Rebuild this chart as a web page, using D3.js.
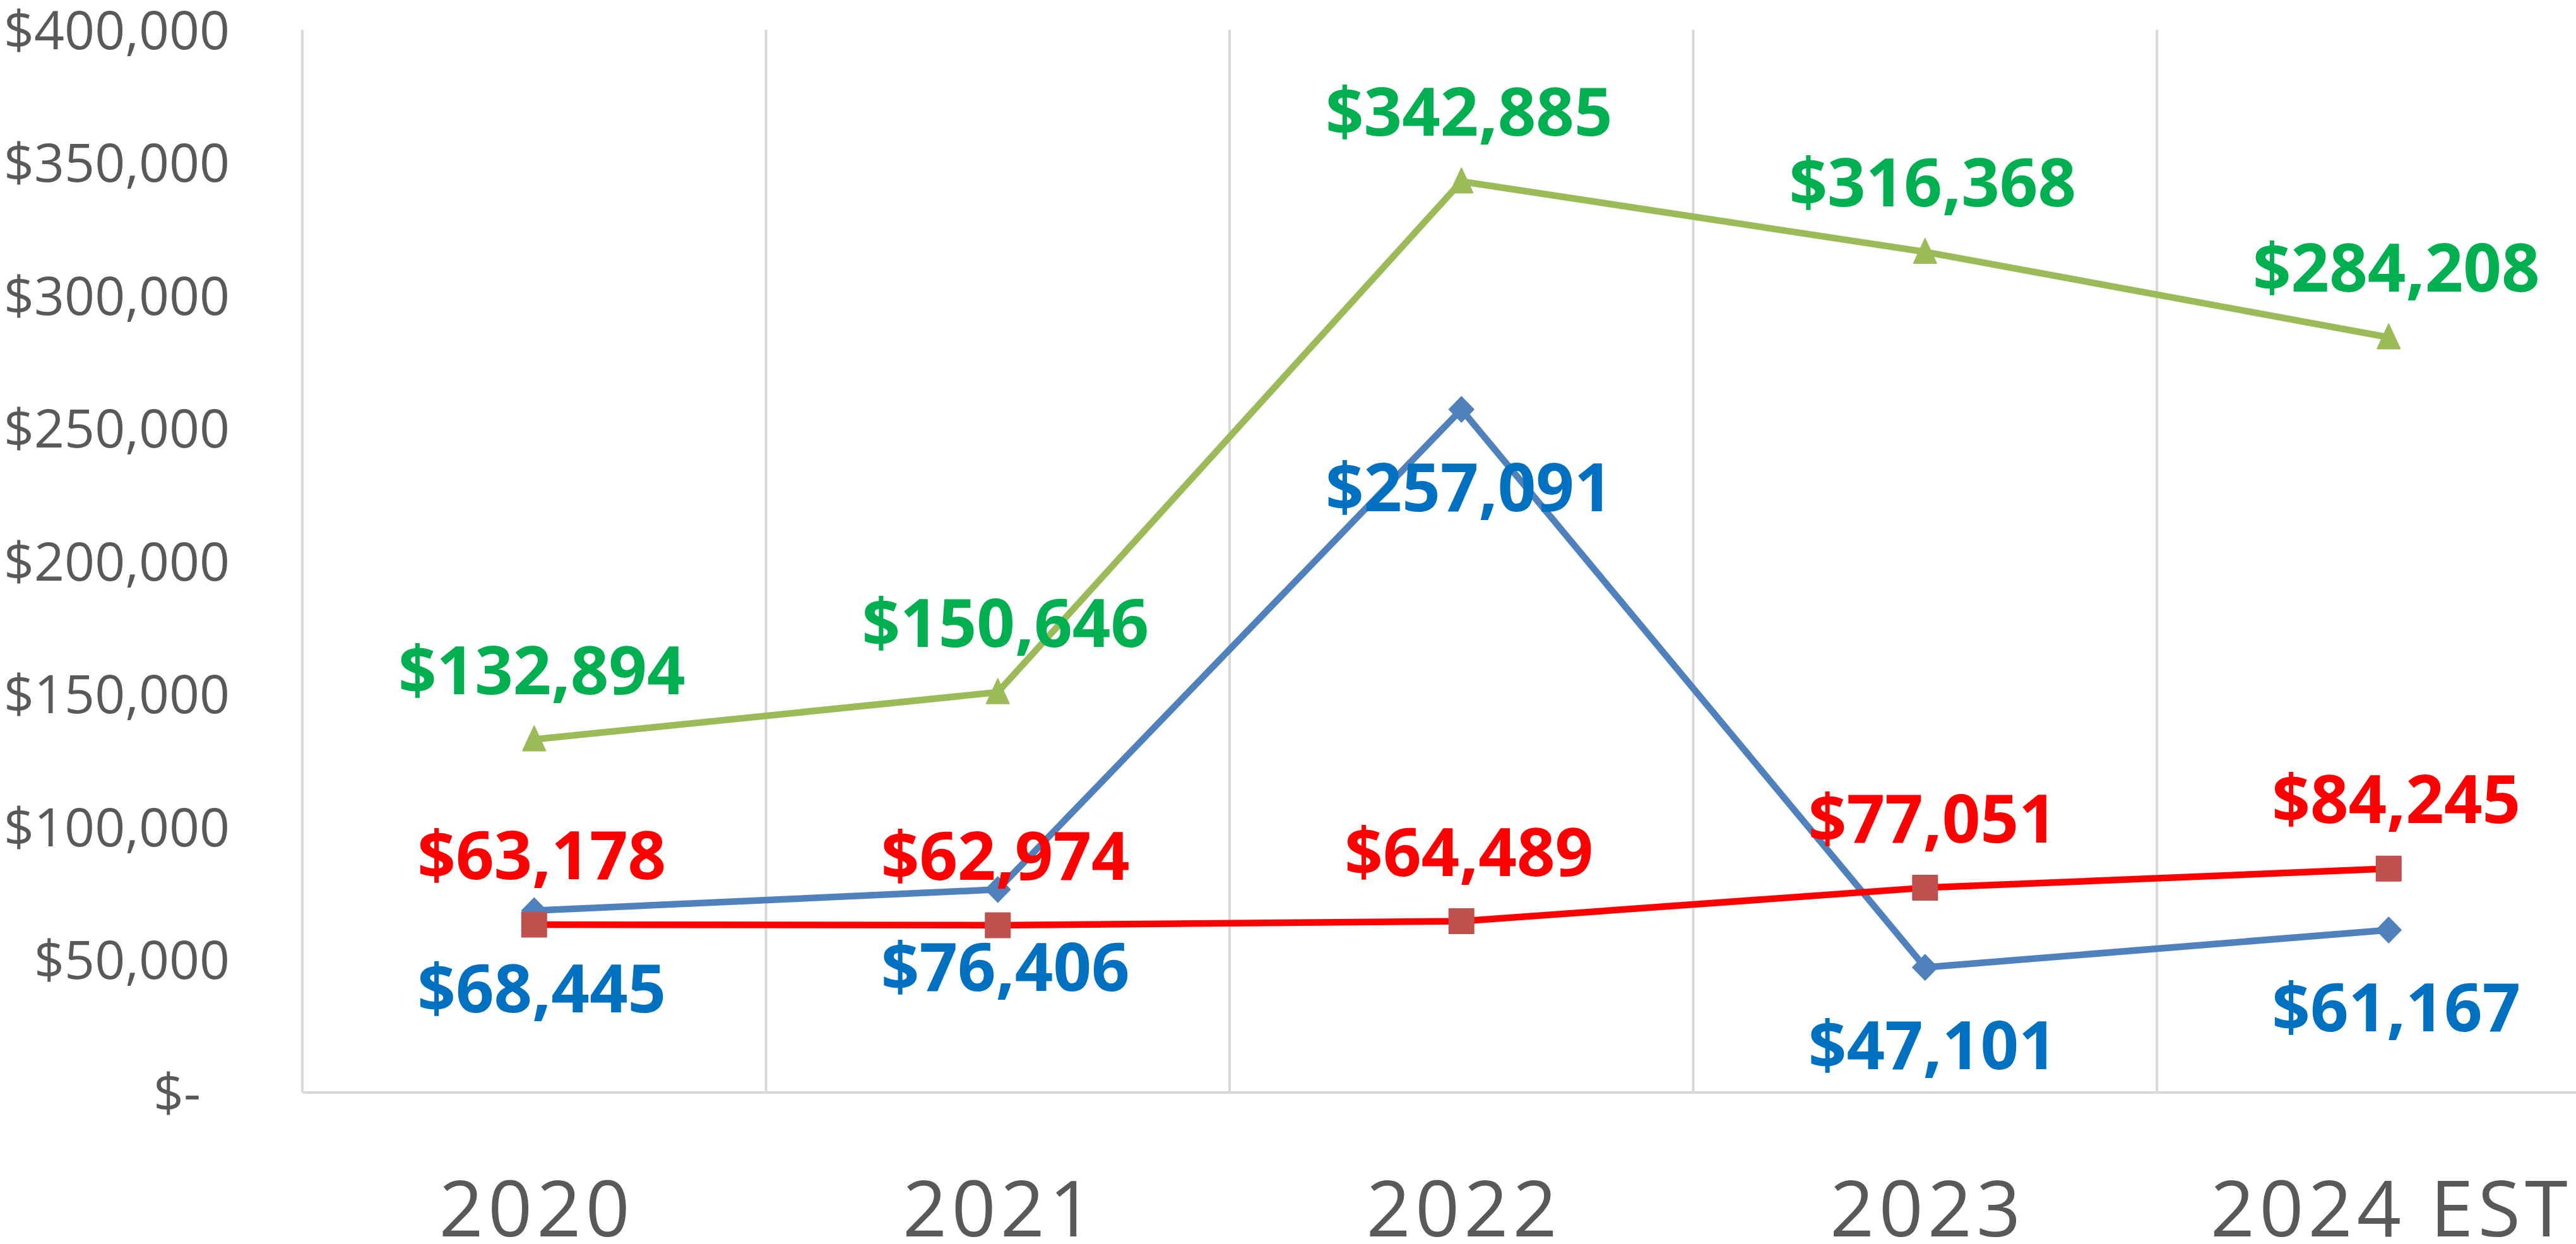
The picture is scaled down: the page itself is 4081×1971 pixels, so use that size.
<!DOCTYPE html>
<html>
<head>
<meta charset="utf-8">
<script src="https://cdn.jsdelivr.net/npm/d3@7"></script>
<style>
  html, body { margin: 0; padding: 0; background: #fff; overflow: hidden; }
  svg { display: block; }
</style>
</head>
<body>
<svg id="chart" width="4081" height="1971"></svg>
<script>
const categories = ["2020", "2021", "2022", "2023", "2024 EST"];
const blueValues  = [68445, 76406, 257091, 47101, 61167];
const redValues   = [63178, 62974, 64489, 77051, 84245];
const greenValues = [132894, 150646, 342885, 316368, 284208];
const yTickValues = [0, 50000, 100000, 150000, 200000, 250000, 300000, 350000, 400000];
const yTickLabels = ["$-", "$50,000", "$100,000", "$150,000", "$200,000", "$250,000", "$300,000", "$350,000", "$400,000"];

const svg = d3.select("#chart");
const W = 4081, H = 1971;
const plotLeft = 479, bandW = 734.5;
const yBottom = 1731, yTop = 47;

const x = d3.scaleBand().domain(categories).range([plotLeft, plotLeft + bandW * categories.length]).paddingInner(0).paddingOuter(0);
const y = d3.scaleLinear().domain([0, 400000]).range([yBottom, yTop]);
const cx = d => x(d) + x.bandwidth() / 2;

const grid = "#D9D9D9";
// vertical gridlines at band boundaries
const bounds = categories.map(c => x(c));
svg.append("g").selectAll("line").data(bounds).join("line")
  .attr("x1", d => d).attr("x2", d => d)
  .attr("y1", y(400000)).attr("y2", yBottom)
  .attr("stroke", grid).attr("stroke-width", 4);

// x axis
const xAxis = d3.axisBottom(x).tickSize(0).tickPadding(0);
const gx = svg.append("g").attr("transform", `translate(0,${yBottom})`).call(xAxis);
gx.select(".domain").attr("stroke", grid).attr("stroke-width", 4).attr("d", `M${plotLeft},0H${W + 100}`);
gx.selectAll(".tick text")
  .attr("y", 0).attr("dy", 0)
  .attr("transform", "translate(4,228)")
  .attr("font-family", "'Open Sans', sans-serif")
  .attr("font-size", 123)
  .attr("letter-spacing", 7)
  .attr("fill", "#595959")
  .attr("text-anchor", "middle");

// y axis (labels only)
const yAxis = d3.axisLeft(y).tickValues(yTickValues)
  .tickFormat((d, i) => yTickLabels[i]).tickSize(0).tickPadding(115);
const gy = svg.append("g").attr("transform", `translate(${plotLeft},0)`).call(yAxis);
gy.select(".domain").remove();
gy.selectAll(".tick text")
  .attr("font-family", "'Open Sans', sans-serif")
  .attr("font-size", 84)
  .attr("fill", "#595959")
  .attr("dy", "0.36em")
  .attr("dx", d => d === 0 ? -46 : 0);

// series
const series = [
  { name: "blue",  values: blueValues,  line: "#4F81BD", marker: "#4F81BD", label: "#0070C0", shape: "diamond",  pos: "below" },
  { name: "red",   values: redValues,   line: "#FF0000", marker: "#C0504D", label: "#FF0000", shape: "square",   pos: "above" },
  { name: "green", values: greenValues, line: "#9BBB59", marker: "#9BBB59", label: "#00B050", shape: "triangle", pos: "above" }
];

const lineGen = d3.line().x((d, i) => cx(categories[i])).y(d => y(d));

series.forEach(s => {
  const g = svg.append("g");
  g.append("path").datum(s.values)
    .attr("d", lineGen)
    .attr("fill", "none")
    .attr("stroke", s.line)
    .attr("stroke-width", 10.5)
    .attr("stroke-linejoin", "round");
  const pts = g.selectAll("path.m").data(s.values).join("path").attr("class", "m")
    .attr("transform", (d, i) => `translate(${cx(categories[i])},${y(d)})`)
    .attr("fill", s.marker)
    .attr("stroke", s.marker)
    .attr("stroke-width", 2)
    .attr("stroke-linejoin", "round");
  if (s.shape === "diamond") pts.attr("d", "M0,-20L19.5,0L0,20L-19.5,0Z");
  else if (s.shape === "square") pts.attr("d", "M-19.5,-19.5H19.5V19.5H-19.5Z");
  else pts.attr("d", "M0,-21L18,18H-18Z");
});

const fmt = d3.format(",");
series.forEach(s => {
  svg.append("g").selectAll("text").data(s.values).join("text")
    .attr("x", (d, i) => cx(categories[i]) + 12)
    .attr("y", d => s.pos === "above" ? y(d) - 72 : y(d) + 161)
    .attr("text-anchor", "middle")
    .attr("font-family", "'Open Sans', sans-serif")
    .attr("font-weight", 700)
    .attr("font-size", 106)
    .attr("fill", s.label)
    .text(d => "$" + fmt(d));
});
</script>
</body>
</html>
